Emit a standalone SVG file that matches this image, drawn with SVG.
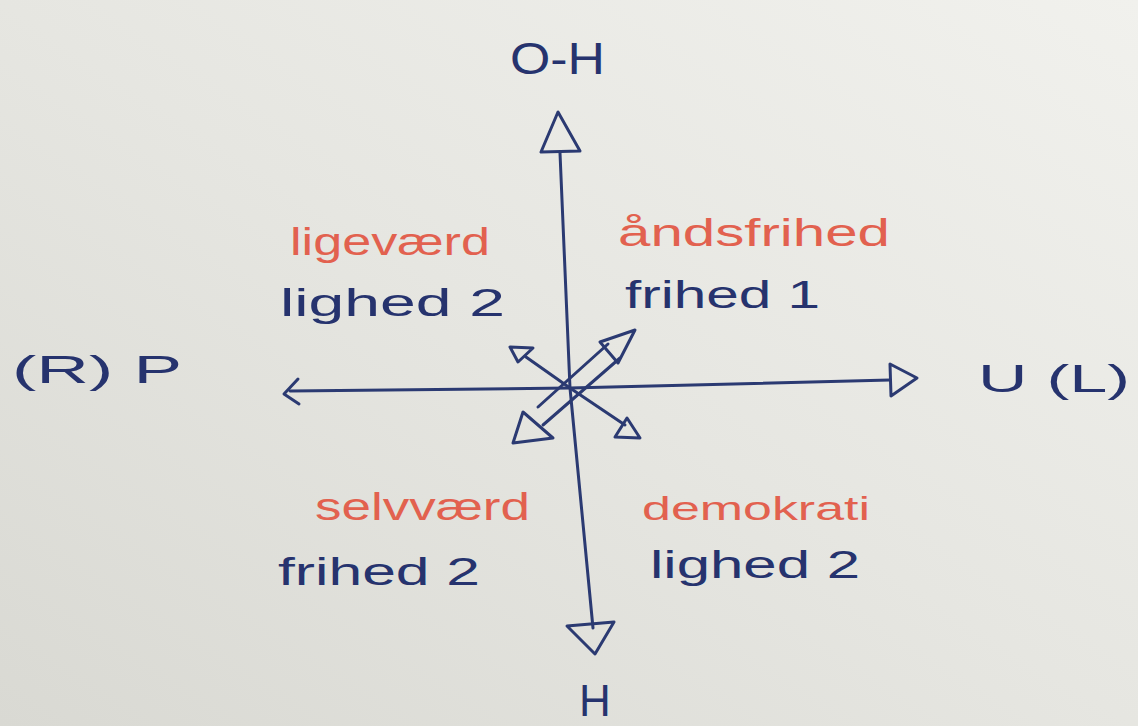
<svg xmlns="http://www.w3.org/2000/svg" width="1138" height="726" viewBox="0 0 1138 726">
<defs>
<linearGradient id="paper" x1="0" y1="1" x2="1" y2="0">
<stop offset="0" stop-color="#d9d9d3"/>
<stop offset="0.5" stop-color="#e6e6e1"/>
<stop offset="1" stop-color="#f1f1ed"/>
</linearGradient>
<style>
.ln{fill:none;stroke:#2b3a72;stroke-width:3;stroke-linecap:round;stroke-linejoin:round}
.red{fill:#e2614f;font-family:"Liberation Sans","DejaVu Sans",sans-serif}
.blue{fill:#26336e;font-family:"Liberation Sans","DejaVu Sans",sans-serif}
</style>
</defs>
<rect width="1138" height="726" fill="url(#paper)"/>
<g id="connectors">
<!-- vertical axis -->
<path class="ln" d="M560 153 L570 388 L593 628"/>
<polygon class="ln" points="558,112 541,152 580,151"/>
<polygon class="ln" points="567,626 614,622 595,654"/>
<!-- horizontal axis -->
<path class="ln" d="M290 391 L570 388 L890 380"/>
<path class="ln" d="M298 379 L284 394 L299 404"/>
<polygon class="ln" points="890,364 917,378 891,396"/>
<!-- NE/SW double arrow -->
<path class="ln" d="M538 407 L608 344"/>
<path class="ln" d="M543 425 L620 358"/>
<polygon class="ln" points="635,330 600,342 618,363"/>
<polygon class="ln" points="523,412 513,443 553,438"/>
<!-- NW arrow -->
<path class="ln" d="M570 388 L526 357"/>
<polygon class="ln" points="510,347 533,348 518,362"/>
<!-- SE arrow -->
<path class="ln" d="M570 388 L625 425"/>
<polygon class="ln" points="627,418 615,437 640,438"/>
</g>
<g id="node-top"><text class="blue" x="510" y="74" font-size="44" textLength="95" lengthAdjust="spacingAndGlyphs">O-H</text></g>
<g id="node-bottom"><text class="blue" x="595" y="716" font-size="44" text-anchor="middle">H</text></g>
<g id="node-left"><text class="blue" x="12" y="383" font-size="38" textLength="170" lengthAdjust="spacingAndGlyphs">(R)  P</text></g>
<g id="node-right"><text class="blue" x="978" y="392" font-size="38" textLength="152" lengthAdjust="spacingAndGlyphs">U (L)</text></g>
<g id="node-nw">
<text class="red" x="290" y="255" font-size="38" textLength="200" lengthAdjust="spacingAndGlyphs">ligeværd</text>
<text class="blue" x="280" y="316" font-size="38" textLength="225" lengthAdjust="spacingAndGlyphs">lighed 2</text>
</g>
<g id="node-ne">
<text class="red" x="618" y="246" font-size="38" textLength="272" lengthAdjust="spacingAndGlyphs">åndsfrihed</text>
<text class="blue" x="625" y="308" font-size="38" textLength="195" lengthAdjust="spacingAndGlyphs">frihed 1</text>
</g>
<g id="node-sw">
<text class="red" x="315" y="520" font-size="38" textLength="215" lengthAdjust="spacingAndGlyphs">selvværd</text>
<text class="blue" x="278" y="585" font-size="38" textLength="202" lengthAdjust="spacingAndGlyphs">frihed 2</text>
</g>
<g id="node-se">
<text class="red" x="642" y="520" font-size="34" textLength="228" lengthAdjust="spacingAndGlyphs">demokrati</text>
<text class="blue" x="650" y="578" font-size="38" textLength="210" lengthAdjust="spacingAndGlyphs">lighed 2</text>
</g>
</svg>
